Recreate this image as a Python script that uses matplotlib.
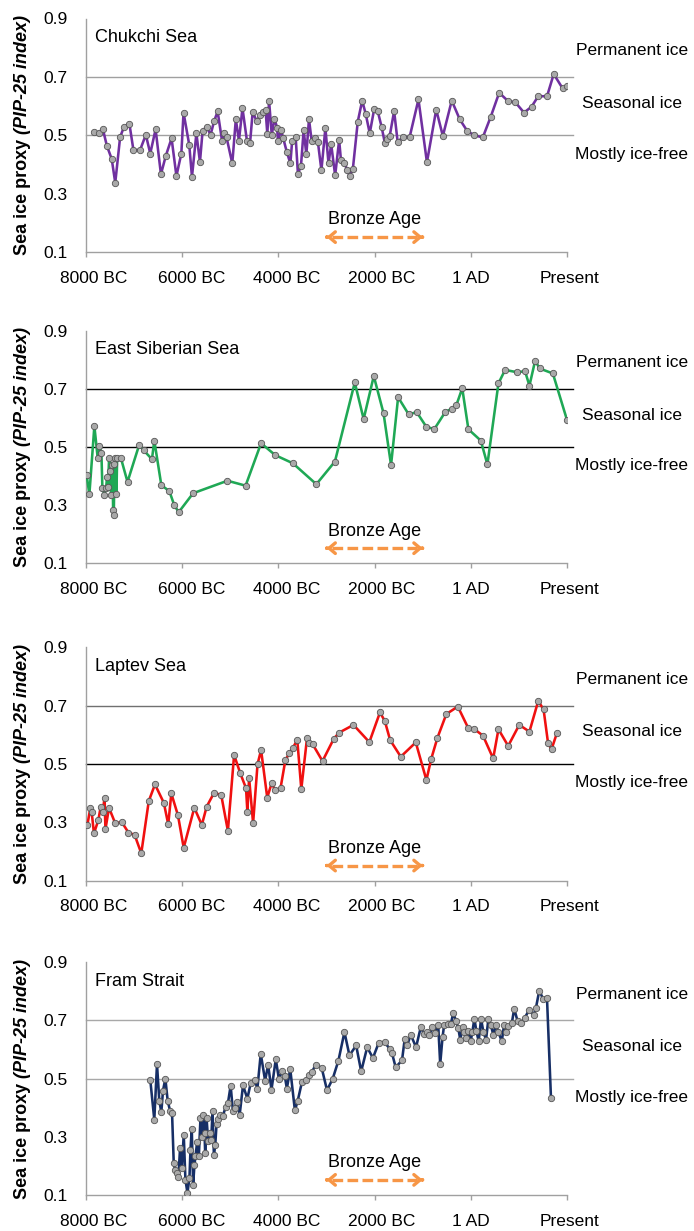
#!/usr/bin/env python3
"""
Arctic sea ice proxy (PIP-25) records, four seas
"""
import matplotlib
matplotlib.use('Agg')
import matplotlib.pyplot as plt
from matplotlib.transforms import ScaledTranslation

plt.rcParams['font.family'] = ['Liberation Sans', 'DejaVu Sans']

# axis ticks (years, negative = BC)
tick_years = [-8000, -6000, -4000, -2000, 0, 2000]
tick_labels = ['8000 BC', '6000 BC', '4000 BC', '2000 BC', '1 AD', 'Present']
y_ticks = [0.1, 0.3, 0.5, 0.7, 0.9]
y_tick_labels = ['0.1', '0.3', '0.5', '0.7', '0.9']

# sea ice zones
zone_lines = [0.5, 0.7]
zone_names = ['Permanent ice', 'Seasonal ice', 'Mostly ice-free']
zone_name_y = [0.79, 0.61, 0.435]

# Bronze Age span
bronze_start = -3000
bronze_end = -1000

region_names = ['Chukchi Sea', 'East Siberian Sea', 'Laptev Sea', 'Fram Strait']

chukchi_years = [
    -7843, -7733, -7650, -7567, -7465, -7392, -7290, -7207, -7097, -7014,
    -6876, -6756, -6664, -6553, -6442, -6341, -6221, -6120, -6018, -5972,
    -5853, -5797, -5705, -5631, -5576, -5493, -5410, -5336, -5263, -5171,
    -5124, -5078, -4959, -4885, -4820, -4747, -4654, -4590, -4535, -4452,
    -4378, -4313, -4267, -4230, -4194, -4138, -4083, -4028, -4009, -3945,
    -3899, -3825, -3751, -3714, -3641, -3594, -3530, -3475, -3419, -3364,
    -3309, -3235, -3180, -3106, -3023, -2958, -2903, -2820, -2737, -2700,
    -2627, -2571, -2516, -2452, -2350, -2258, -2184, -2101, -2009, -1935,
    -1853, -1788, -1733, -1687, -1594, -1521, -1410, -1272, -1088, -912,
    -719, -581, -396, -230, -74, 65, 249, 415, 590, 783,
    922, 1106, 1263, 1401, 1585, 1724, 1908, 1990]
chukchi_pip = [
    0.511, 0.509, 0.522, 0.465, 0.419, 0.338, 0.495, 0.530, 0.539, 0.450,
    0.450, 0.502, 0.438, 0.521, 0.367, 0.430, 0.490, 0.361, 0.438, 0.578,
    0.467, 0.358, 0.507, 0.409, 0.515, 0.530, 0.502, 0.549, 0.582, 0.481,
    0.507, 0.493, 0.404, 0.555, 0.482, 0.593, 0.482, 0.473, 0.580, 0.549,
    0.570, 0.580, 0.587, 0.505, 0.619, 0.501, 0.557, 0.527, 0.482, 0.518,
    0.490, 0.443, 0.404, 0.482, 0.494, 0.368, 0.397, 0.518, 0.435, 0.556,
    0.481, 0.490, 0.479, 0.381, 0.525, 0.404, 0.470, 0.363, 0.484, 0.416,
    0.407, 0.381, 0.362, 0.385, 0.547, 0.619, 0.573, 0.507, 0.590, 0.583,
    0.528, 0.475, 0.489, 0.497, 0.583, 0.478, 0.494, 0.494, 0.623, 0.408,
    0.588, 0.498, 0.619, 0.555, 0.515, 0.501, 0.493, 0.564, 0.646, 0.616,
    0.614, 0.578, 0.598, 0.634, 0.634, 0.710, 0.661, 0.669]

east_siberian_years = [
    -7986, -7930, -7826, -7756, -7722, -7680, -7659, -7617, -7582, -7562,
    -7541, -7520, -7499, -7478, -7450, -7436, -7422, -7408, -7388, -7367,
    -7353, -7276, -7137, -6893, -6803, -6629, -6580, -6434, -6267, -6163,
    -6072, -5773, -5059, -4682, -4360, -4066, -3699, -3211, -2825, -2412,
    -2228, -2017, -1814, -1658, -1511, -1291, -1125, -923, -757, -528,
    -390, -298, -178, -50, 208, 345, 575, 713, 970, 1127,
    1219, 1338, 1430, 1706, 2000]
east_siberian_pip = [
    0.403, 0.337, 0.572, 0.461, 0.502, 0.481, 0.358, 0.336, 0.359, 0.397,
    0.363, 0.463, 0.417, 0.336, 0.439, 0.283, 0.267, 0.441, 0.463, 0.339,
    0.463, 0.463, 0.380, 0.508, 0.489, 0.458, 0.522, 0.369, 0.348, 0.299,
    0.276, 0.341, 0.384, 0.367, 0.513, 0.472, 0.444, 0.372, 0.450, 0.722,
    0.596, 0.744, 0.616, 0.438, 0.671, 0.612, 0.620, 0.569, 0.562, 0.621,
    0.632, 0.645, 0.702, 0.561, 0.522, 0.440, 0.719, 0.765, 0.757, 0.761,
    0.711, 0.797, 0.770, 0.753, 0.593]

laptev_years = [
    -7972, -7908, -7881, -7835, -7743, -7697, -7651, -7614, -7596, -7522,
    -7393, -7256, -7118, -6989, -6851, -6695, -6566, -6382, -6290, -6226,
    -6088, -5969, -5748, -5592, -5491, -5335, -5188, -5050, -4921, -4792,
    -4673, -4645, -4609, -4526, -4434, -4360, -4232, -4140, -4066, -3956,
    -3855, -3772, -3699, -3607, -3524, -3404, -3359, -3285, -3083, -2853,
    -2743, -2439, -2109, -1888, -1787, -1677, -1456, -1144, -923, -822,
    -693, -509, -270, -50, 70, 254, 465, 575, 777, 1007,
    1219, 1402, 1513, 1605, 1678, 1788]
laptev_pip = [
    0.291, 0.350, 0.334, 0.262, 0.308, 0.351, 0.337, 0.385, 0.276, 0.350,
    0.297, 0.301, 0.265, 0.257, 0.194, 0.373, 0.430, 0.367, 0.293, 0.399,
    0.324, 0.213, 0.350, 0.291, 0.354, 0.402, 0.393, 0.271, 0.531, 0.468,
    0.417, 0.337, 0.452, 0.297, 0.499, 0.548, 0.385, 0.434, 0.410, 0.417,
    0.513, 0.537, 0.556, 0.582, 0.414, 0.590, 0.573, 0.567, 0.510, 0.585,
    0.607, 0.634, 0.575, 0.677, 0.647, 0.582, 0.525, 0.574, 0.445, 0.518,
    0.590, 0.671, 0.697, 0.622, 0.620, 0.597, 0.519, 0.619, 0.562, 0.634,
    0.611, 0.716, 0.687, 0.573, 0.550, 0.605]

fram_years = [
    -6664, -6580, -6524, -6476, -6434, -6399, -6350, -6302, -6253, -6211,
    -6176, -6149, -6107, -6079, -6044, -6009, -5968, -5933, -5891, -5849,
    -5828, -5801, -5773, -5745, -5724, -5689, -5654, -5620, -5585, -5564,
    -5536, -5522, -5494, -5460, -5432, -5397, -5369, -5341, -5313, -5286,
    -5258, -5216, -5160, -5098, -5049, -4993, -4945, -4903, -4868, -4805,
    -4736, -4645, -4576, -4492, -4437, -4367, -4276, -4214, -4144, -4054,
    -3991, -3915, -3866, -3824, -3754, -3657, -3601, -3511, -3420, -3358,
    -3302, -3225, -3100, -2989, -2870, -2752,
    -2627, -2523, -2383, -2279, -2154, -2035, -1917, -1792, -1687, -1639,
    -1562, -1430, -1374, -1318, -1249, -1138, -1040, -970, -901, -866,
    -803, -748, -678, -636, -588, -553, -469, -414, -365, -309,
    -261, -219, -170, -135, -93, -52, -3, 32, 74, 115,
    164, 213, 262, 317, 366, 415, 470, 519, 575, 644,
    693, 735, 783, 853, 902, 971, 1041, 1118, 1215, 1305,
    1354, 1424, 1500, 1584, 1667]
fram_pip = [
    0.496, 0.359, 0.550, 0.424, 0.385, 0.459, 0.500, 0.424, 0.390, 0.382,
    0.210, 0.187, 0.176, 0.161, 0.262, 0.193, 0.307, 0.153, 0.107, 0.159,
    0.256, 0.328, 0.136, 0.204, 0.233, 0.282, 0.233, 0.365, 0.298, 0.374,
    0.313, 0.244, 0.365, 0.285, 0.313, 0.290, 0.388, 0.239, 0.271, 0.344,
    0.362, 0.376, 0.370, 0.401, 0.416, 0.476, 0.388, 0.399, 0.419, 0.376,
    0.477, 0.431, 0.485, 0.496, 0.466, 0.586, 0.493, 0.548, 0.462, 0.567,
    0.500, 0.527, 0.508, 0.466, 0.533, 0.391, 0.422, 0.488, 0.495, 0.511,
    0.523, 0.548, 0.537, 0.460, 0.500, 0.562,
    0.660, 0.580, 0.614, 0.525, 0.608, 0.571, 0.622, 0.625, 0.603, 0.588,
    0.539, 0.563, 0.636, 0.617, 0.651, 0.608, 0.677, 0.653, 0.660, 0.649,
    0.676, 0.657, 0.686, 0.550, 0.642, 0.686, 0.688, 0.688, 0.726, 0.699,
    0.674, 0.634, 0.677, 0.660, 0.640, 0.663, 0.628, 0.660, 0.706, 0.665,
    0.628, 0.706, 0.660, 0.634, 0.706, 0.686, 0.649, 0.686, 0.660, 0.628,
    0.686, 0.660, 0.680, 0.691, 0.740, 0.699, 0.691, 0.708, 0.737, 0.718,
    0.743, 0.803, 0.775, 0.777, 0.433]

all_years = [chukchi_years, east_siberian_years, laptev_years, fram_years]
all_pip = [chukchi_pip, east_siberian_pip, laptev_pip, fram_pip]

# styling
line_colors = ['#7030a0', '#1fa855', '#f01010', '#172f66']
zone_line_colors = [['#a0a0a0', '#a0a0a0'], ['#000000', '#000000'],
                    ['#000000', '#707070'], ['#a8a8a8', '#a8a8a8']]
arrow_color = '#f79646'
W, H = 694, 1231
ax_left, ax_right = 86, 567
ax_rows = [(18.5, 252.3), (330.7, 563.3), (647.3, 880.7), (962.3, 1195.0)]
label_dx = [8, 9, 8, 7, 0, 3]   # px shift of x tick labels

fig = plt.figure(figsize=(W / 100, H / 100), dpi=100)
axes = []
for i in range(4):
    top, bot = ax_rows[i]
    ax = fig.add_axes([ax_left / W, 1 - bot / H,
                       (ax_right - ax_left) / W, (bot - top) / H])
    axes.append(ax)
    ax.plot(all_years[i], all_pip[i], color=line_colors[i], lw=1.85,
            marker='o', ms=4.6, mfc='#a9a9a9', mec='#555555', mew=0.6,
            zorder=3)
    ax.set_xlim(-8000, 2000)
    ax.set_ylim(0.1, 0.9)
    for y, c in zip(zone_lines, zone_line_colors[i]):
        ax.axhline(y, xmin=0, xmax=1.013, color=c, lw=1.0, zorder=1,
                   clip_on=False)
    for s in ['top', 'right']:
        ax.spines[s].set_visible(False)
    for s in ['left', 'bottom']:
        ax.spines[s].set_color('#a0a0a0')
        ax.spines[s].set_linewidth(1.0)
    ax.set_xticks(tick_years)
    ax.set_xticklabels(tick_labels)
    ax.set_yticks(y_ticks)
    ax.set_yticklabels(y_tick_labels)
    ax.tick_params(axis='x', length=3.5, width=1, color='#a0a0a0',
                   labelsize=12.5, pad=10)
    ax.tick_params(axis='y', length=0, labelsize=12.5, pad=13)
    for lbl, dx in zip(ax.get_xticklabels(), label_dx):
        lbl.set_transform(lbl.get_transform() +
                          ScaledTranslation(dx / 100, 0, fig.dpi_scale_trans))

    ax.text(0.019, 0.919, region_names[i], transform=ax.transAxes,
            fontsize=13, ha='left', va='center')
    ytr = ax.get_yaxis_transform()
    for name, y in zip(zone_names, zone_name_y):
        ax.text(1.135, y, name, transform=ytr, fontsize=12.5,
                ha='center', va='center', clip_on=False)

    # Bronze Age arrow
    ya = 0.152
    ax.plot([bronze_start + 120, bronze_end - 120], [ya, ya],
            color=arrow_color, lw=2.4, dashes=(3.2, 1.3), zorder=2)
    for xa, xb in [(bronze_start, bronze_start + 5), (bronze_end, bronze_end - 5)]:
        ax.annotate('', xy=(xa, ya), xytext=(xb, ya),
                    arrowprops=dict(arrowstyle='->,head_length=0.45,head_width=0.38',
                                    color=arrow_color, lw=2.4,
                                    shrinkA=0, shrinkB=0))
    ax.text((bronze_start + bronze_end) / 2, 0.211, 'Bronze Age',
            fontsize=13, ha='center', va='center')

# y labels: bold part + bold italic part
fig.canvas.draw()
r = fig.canvas.get_renderer()
for i in range(4):
    top, bot = ax_rows[i]
    cy = H - (top + bot) / 2
    t1 = fig.text(23 / W, 0, 'Sea ice proxy', rotation=90, fontsize=13,
                  fontweight='bold', ha='center', va='bottom')
    t2 = fig.text(23 / W, 0, '(PIP-25 index)', rotation=90, fontsize=13,
                  fontweight='bold', fontstyle='italic', ha='center', va='bottom')
    h1 = t1.get_window_extent(r).height
    h2 = t2.get_window_extent(r).height
    gap = 5
    y0 = cy - (h1 + gap + h2) / 2
    t1.set_y(y0 / H)
    t2.set_y((y0 + h1 + gap) / H)

fig.savefig('out.png', dpi=100)
